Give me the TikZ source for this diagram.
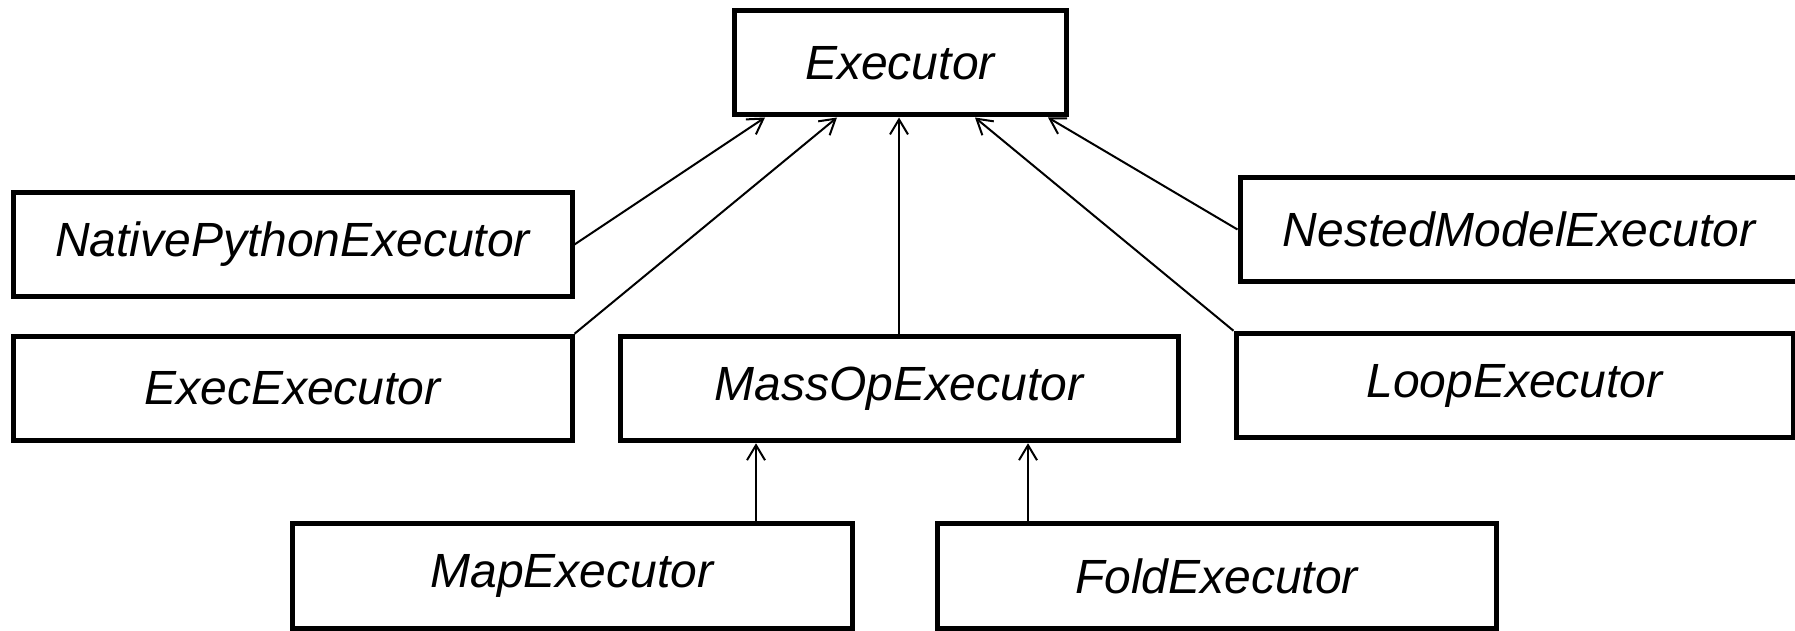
\documentclass[tikz,border=0pt]{standalone}
\usepackage{fontspec}
\setmainfont{Liberation Sans}
\usetikzlibrary{arrows.meta,calc}

\tikzset{
  classbox/.style={draw=black, line width=2.5pt, rectangle, inner sep=0pt,
    minimum height=52.25pt, font=\fontsize{24}{28}\selectfont\itshape},
  inherit/.style={line width=1pt, -{Straight Barb[length=7.5pt,width=9pt,line width=1pt]}},
}

\begin{document}
\begin{tikzpicture}[x=0.5pt, y=-0.5pt]
  % page frame and white background
  \fill[white] (0,0) rectangle (1795,631);
  \useasboundingbox (0,0) rectangle (1795,631);

  % class boxes (sizes in pt, one unit = 0.5pt)
  \node[classbox, minimum width=166pt, minimum height=52pt] (exe) at (900,63) {Executor};
  \node[classbox, minimum width=279.5pt] (native) at (292.5,244.5) {NativePythonExecutor};
  \node[classbox, minimum width=279.5pt] (exec) at (292.5,388.5) {ExecExecutor};
  \node[classbox, minimum width=279pt] (massop) at (899,388.5) {MassOpExecutor};
  \node[classbox, minimum width=279pt] (nested) at (1519,229.5) {NestedModelExecutor};
  \node[classbox, minimum width=278.5pt] (loop) at (1514.5,385.5) {LoopExecutor};
  \node[classbox, minimum width=280pt] (map) at (572,576) {MapExecutor};
  \node[classbox, minimum width=279.5pt] (fold) at (1216.5,576) {FoldExecutor};

  % attachment points on the bottom of Executor
  \coordinate (tNative) at ($(exe.south)+(-135,0)$);
  \coordinate (tExec)   at ($(exe.south)+(-63,0)$);
  \coordinate (tLoop)   at ($(exe.south)+(75,0)$);
  \coordinate (tNested) at ($(exe.south)+(148,0)$);

  % start points on Map and Fold
  \coordinate (sMap)  at ($(map.north)+(184,0)$);
  \coordinate (sFold) at ($(fold.north)+(-188.5,0)$);

  % inheritance arrows
  \draw[inherit] (native.east) -- (tNative);
  \draw[inherit] (exec.north east) -- (tExec);
  \draw[inherit] (massop.north) -- (massop.north |- exe.south);
  \draw[inherit] (loop.north west) -- (tLoop);
  \draw[inherit] (nested.west) -- (tNested);
  \draw[inherit] (sMap) -- (sMap |- massop.south);
  \draw[inherit] (sFold) -- (sFold |- massop.south);
\end{tikzpicture}
\end{document}
